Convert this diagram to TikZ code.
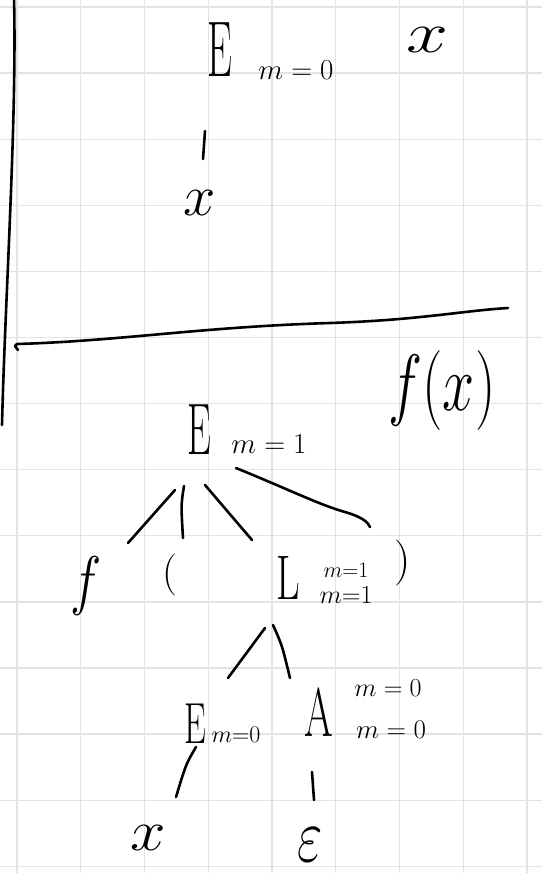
\RequirePackage{fix-cm}
\documentclass[tikz,border=0pt]{standalone}
\usepackage{graphicx}
\newcommand{\hw}[4]{\scalebox{#1}[#2]{\fontsize{#3}{#3}\selectfont #4}}
\tikzset{
  grid/.style={draw=black!11, line width=1.3pt},
  ink/.style={draw=black, line width=2.6pt, line cap=round, line join=round},
  txt/.style={inner sep=0pt, outer sep=0pt, anchor=center, text=black}
}
\begin{document}
\begin{tikzpicture}[x=1pt,y=-1pt]
\useasboundingbox (0,0) rectangle (542,873);
\fill[white] (0,0) rectangle (542,873);
% grid paper
\foreach \k in {0,...,8} { \draw[grid] ({17+63.75*\k},0) -- ({17+63.75*\k},873); }
\foreach \k in {0,...,13} { \draw[grid] (0,{7+66.1*\k}) -- (542,{7+66.1*\k}); }

% separator strokes
\coordinate (vtop) at (14,-2);
\coordinate (vbot) at (2,425);
\draw[ink] (vtop) .. controls (17,120) and (5,300) .. (vbot);
\coordinate (hl) at (17,344);
\coordinate (hr) at (508,308);
\draw[ink] (18,350) -- (15,346) -- (hl) .. controls (120,341) and (200,327) .. (330,323) .. controls (420,320) and (460,311) .. (hr);

% upper part
\node[txt] (Etop) at (220,50) {\hw{0.5}{1}{79}{E}};
\node[txt] (mtop) at (296,70) {\hw{1}{1}{29}{$m=0$}};
\node[txt] (xtop) at (427,40) {\hw{1.3}{1}{58}{$x$}};
\node[txt] (x1) at (200,203) {\hw{1}{1}{58}{$x$}};
\coordinate (b1a) at (205,131);
\coordinate (b1b) at (203,159);
\draw[ink] (b1a) -- (b1b);

% lower part
\node[txt] (fx) at (442,390) {\hw{0.72}{1}{80}{$f(x)$}};
\node[txt] (E1) at (199,430) {\hw{0.52}{1}{73}{E}};
\node[txt] (m1) at (269,444) {\hw{1}{1}{29}{$m=1$}};

\node[txt] (f) at (86,586) {\hw{0.8}{1}{66}{$f$}};
\node[txt] (lp) at (170,575) {\hw{1}{1}{42}{(}};
\node[txt] (L) at (288,578) {\hw{0.65}{1}{63}{L}};
\node[txt] (Lsup) at (346,570) {\hw{1}{1}{22}{$m{=}1$}};
\node[txt] (Lsub) at (346,595) {\hw{1}{1}{26}{$m{=}1$}};
\node[txt] (rp) at (403,563) {\hw{1}{1}{46}{)}};

\coordinate (e1a) at (175,490); \coordinate (e1b) at (128,543);
\coordinate (e2a) at (184,486); \coordinate (e2b) at (183,538);
\coordinate (e3a) at (205,485); \coordinate (e3b) at (252,540);
\coordinate (e4a) at (236,468); \coordinate (e4b) at (370,527);
\draw[ink] (e1a) -- (e1b);
\draw[ink] (e2a) .. controls (181,505) .. (e2b);
\draw[ink] (e3a) -- (e3b);
\draw[ink] (e4a) .. controls (290,490) and (320,505) .. (345,512) .. controls (362,517) and (368,522) .. (e4b);

\node[txt] (E0) at (195,724) {\hw{0.6}{1}{58}{E}};
\node[txt] (E0sub) at (236,735) {\hw{1}{1}{24}{$m{=}0$}};
\node[txt] (A) at (319,712) {\hw{0.6}{1}{69}{A}};
\node[txt] (Asup) at (388,688) {\hw{1}{1}{26}{$m=0$}};
\node[txt] (Asub) at (391,730) {\hw{1}{1}{27}{$m=0$}};

\coordinate (l1a) at (265,628); \coordinate (l1b) at (228,678);
\coordinate (l2a) at (273,625); \coordinate (l2b) at (290,678);
\draw[ink] (l1a) -- (l1b);
\draw[ink] (l2a) .. controls (282,645) .. (l2b);

\node[txt] (x2) at (148,838) {\hw{1.1}{1}{58}{$x$}};
\node[txt] (eps) at (310,845) {\hw{1}{1.4}{55}{$\varepsilon$}};

\coordinate (c1a) at (196,747); \coordinate (c1b) at (176,797);
\coordinate (c2a) at (312,772); \coordinate (c2b) at (314,800);
\draw[ink] (c1a) .. controls (186,764) .. (c1b);
\draw[ink] (c2a) -- (c2b);
\end{tikzpicture}
\end{document}
